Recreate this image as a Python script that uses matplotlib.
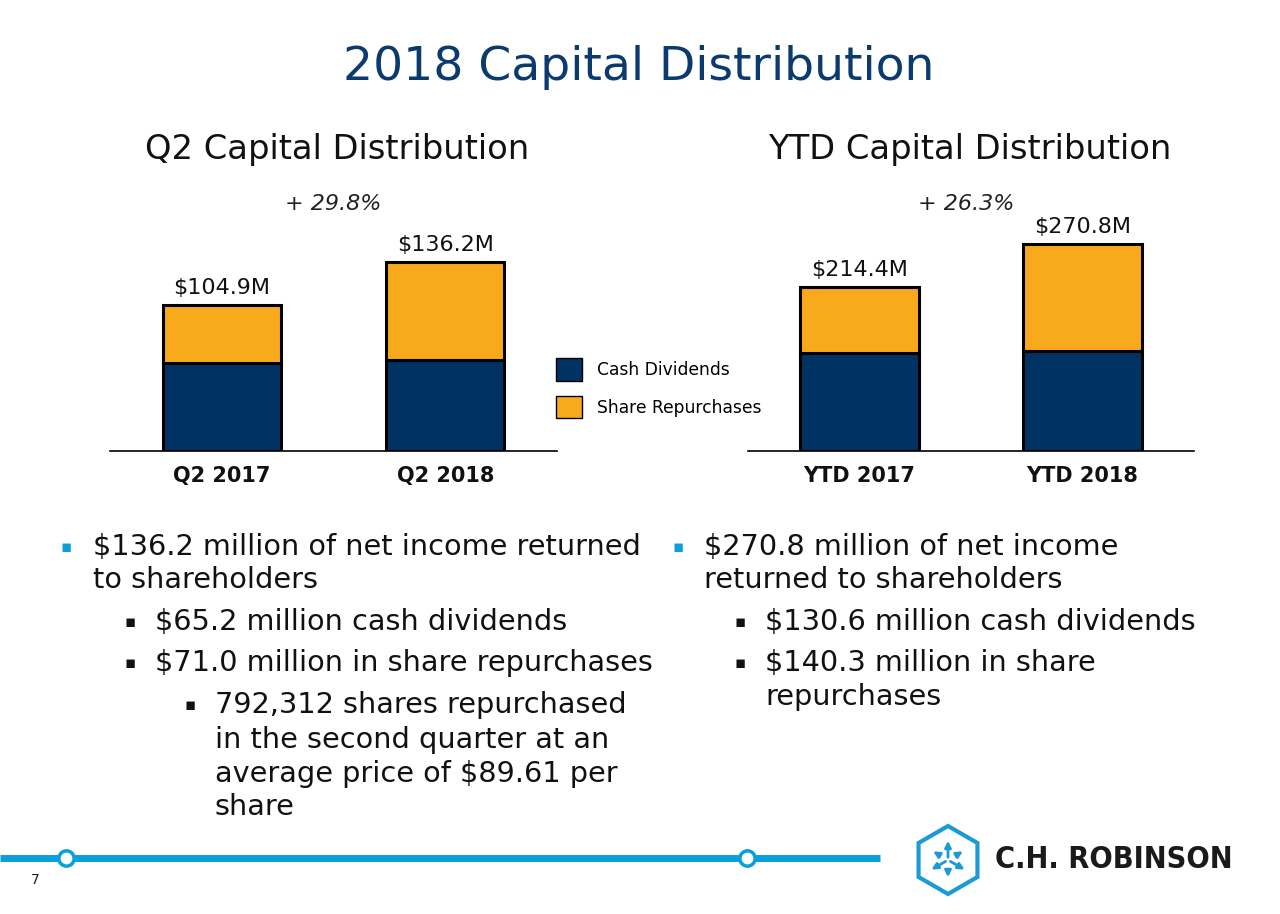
import numpy as np
import matplotlib
matplotlib.use("Agg")
import matplotlib.pyplot as plt
from matplotlib.patches import RegularPolygon, Patch

# data ($M)
q2_labels = ["Q2 2017", "Q2 2018"]
q2_dividends = [63.5, 65.2]
q2_repurchases = [41.4, 71.0]
q2_totals = [104.9, 136.2]

ytd_labels = ["YTD 2017", "YTD 2018"]
ytd_dividends = [128.2, 130.6]
ytd_repurchases = [86.2, 140.3]
ytd_totals = [214.4, 270.8]

q2_growth = "+ 29.8%"
ytd_growth = "+ 26.3%"

NAVY = "#003263"
ORANGE = "#F9AA1C"
TITLE = "#0B3A6E"
BLUE = "#0A9FDC"

plt.rcParams['font.family'] = ['DejaVu Sans']

fig = plt.figure(figsize=(12.8, 9.14), dpi=100)

# overlay in pixel coords for slide decorations and text
deco = fig.add_axes([0, 0, 1, 1], zorder=0)
deco.set_xlim(0, 1280)
deco.set_ylim(914, 0)
deco.axis("off")


def stacked(rect, labels, div, rep, totals, ymax, growth, gx):
    ax = fig.add_axes(rect, zorder=2)
    ax.patch.set_alpha(0)
    x = np.arange(len(labels))
    ax.bar(x, div, width=0.53, color=NAVY, edgecolor="black", linewidth=2.2)
    top = ax.bar(x, rep, width=0.53, bottom=div, color=ORANGE,
                 edgecolor="black", linewidth=2.2)
    ax.bar_label(top, labels=["$%.1fM" % t for t in totals], padding=5,
                 fontsize=16, color="#111111")
    ax.set_xlim(-0.5, 1.5)
    ax.set_ylim(0, ymax)
    ax.set_xticks(x, labels, fontsize=15, fontweight="bold", color="#111111")
    ax.tick_params(axis="x", length=0, pad=11)
    ax.set_yticks([])
    for s in ["top", "left", "right"]:
        ax.spines[s].set_visible(False)
    ax.spines["bottom"].set_linewidth(1.2)
    ax.text(gx, 0.911, growth, transform=ax.get_xaxis_transform(),
            ha="center", va="center", fontsize=16, style="italic",
            color="#222222")
    return ax


ax1 = stacked([110 / 1280, 463 / 914, 447 / 1280, 271 / 914], q2_labels,
              q2_dividends, q2_repurchases, q2_totals, 195.2, q2_growth, 0.5)
ax2 = stacked([748 / 1280, 463 / 914, 446 / 1280, 271 / 914], ytd_labels,
              ytd_dividends, ytd_repurchases, ytd_totals, 354.7, ytd_growth, 0.48)

handles = [Patch(facecolor=NAVY, edgecolor="black", linewidth=1),
           Patch(facecolor=ORANGE, edgecolor="black", linewidth=1)]
fig.legend(handles, ["Cash Dividends", "Share Repurchases"], loc="upper left",
           bbox_to_anchor=(556 / 1280, 1 - 358 / 914), frameon=False,
           fontsize=12.3, handlelength=1.55, handleheight=1.65, labelspacing=0.9,
           handletextpad=0.85, borderpad=0, borderaxespad=0)

# titles
deco.text(639, 68, "2018 Capital Distribution", ha="center", va="center",
          fontsize=34, color=TITLE)
deco.text(337, 150, "Q2 Capital Distribution", ha="center", va="center",
          fontsize=24.3, color="#111111")
deco.text(970, 150, "YTD Capital Distribution", ha="center", va="center",
          fontsize=24.3, color="#111111")

# bullet points: (bullet x, text x, y, text, level)
bullets = [
    (66, 93, 547, "$136.2 million of net income returned", 1),
    (None, 93, 580, "to shareholders", 1),
    (130, 155, 622, "$65.2 million cash dividends", 2),
    (130, 155, 663, "$71.0 million in share repurchases", 2),
    (190, 215, 705, "792,312 shares repurchased", 3),
    (None, 215, 740, "in the second quarter at an", 3),
    (None, 215, 774, "average price of $89.61 per", 3),
    (None, 215, 807, "share", 3),
    (678, 704, 547, "$270.8 million of net income", 1),
    (None, 704, 580, "returned to shareholders", 1),
    (740, 765, 622, "$130.6 million cash dividends", 2),
    (740, 765, 663, "$140.3 million in share", 2),
    (None, 765, 697, "repurchases", 2),
]
for bx, tx, y, txt, lvl in bullets:
    if bx is not None:
        deco.text(bx, y, "\u25aa", ha="center", va="center", fontsize=12,
                  color=BLUE if lvl == 1 else "#111111")
    deco.text(tx, y, txt, ha="left", va="center", fontsize=20.7, color="#111111")

# footer line
deco.plot([0, 880], [858, 858], color=BLUE, linewidth=5, solid_capstyle="butt")
deco.plot([66, 747], [858, 858], "o", markersize=11, markerfacecolor="white",
          markeredgecolor=BLUE, markeredgewidth=2.5, linestyle="none")
deco.text(35, 880, "7", ha="center", va="center", fontsize=10, color="#222222")

# logo
LOGO = "#1C9AD6"
deco.add_patch(RegularPolygon((948, 860), 6, radius=34, orientation=0,
                              fill=False, edgecolor=LOGO, linewidth=3))
cx, cy = 948, 860
for ang in [90, 210, 330]:
    a = np.deg2rad(ang)
    deco.annotate("", xy=(cx + 22 * np.cos(a), cy - 22 * np.sin(a)),
                  xytext=(cx, cy),
                  arrowprops=dict(arrowstyle="-|>", color=LOGO, lw=2,
                                  mutation_scale=9))
for ang in [30, 150, 270]:
    a = np.deg2rad(ang)
    deco.annotate("", xy=(cx + 20 * np.cos(a), cy - 20 * np.sin(a)),
                  xytext=(cx + 8 * np.cos(a), cy - 8 * np.sin(a)),
                  arrowprops=dict(arrowstyle="-|>", color=LOGO, lw=2,
                                  mutation_scale=9))
deco.text(995, 860, "C.H. ROBINSON", ha="left", va="center", fontsize=22,
          fontweight="bold", color="#1a1a1a", fontstretch="condensed")

fig.savefig("out.png", dpi=100)
